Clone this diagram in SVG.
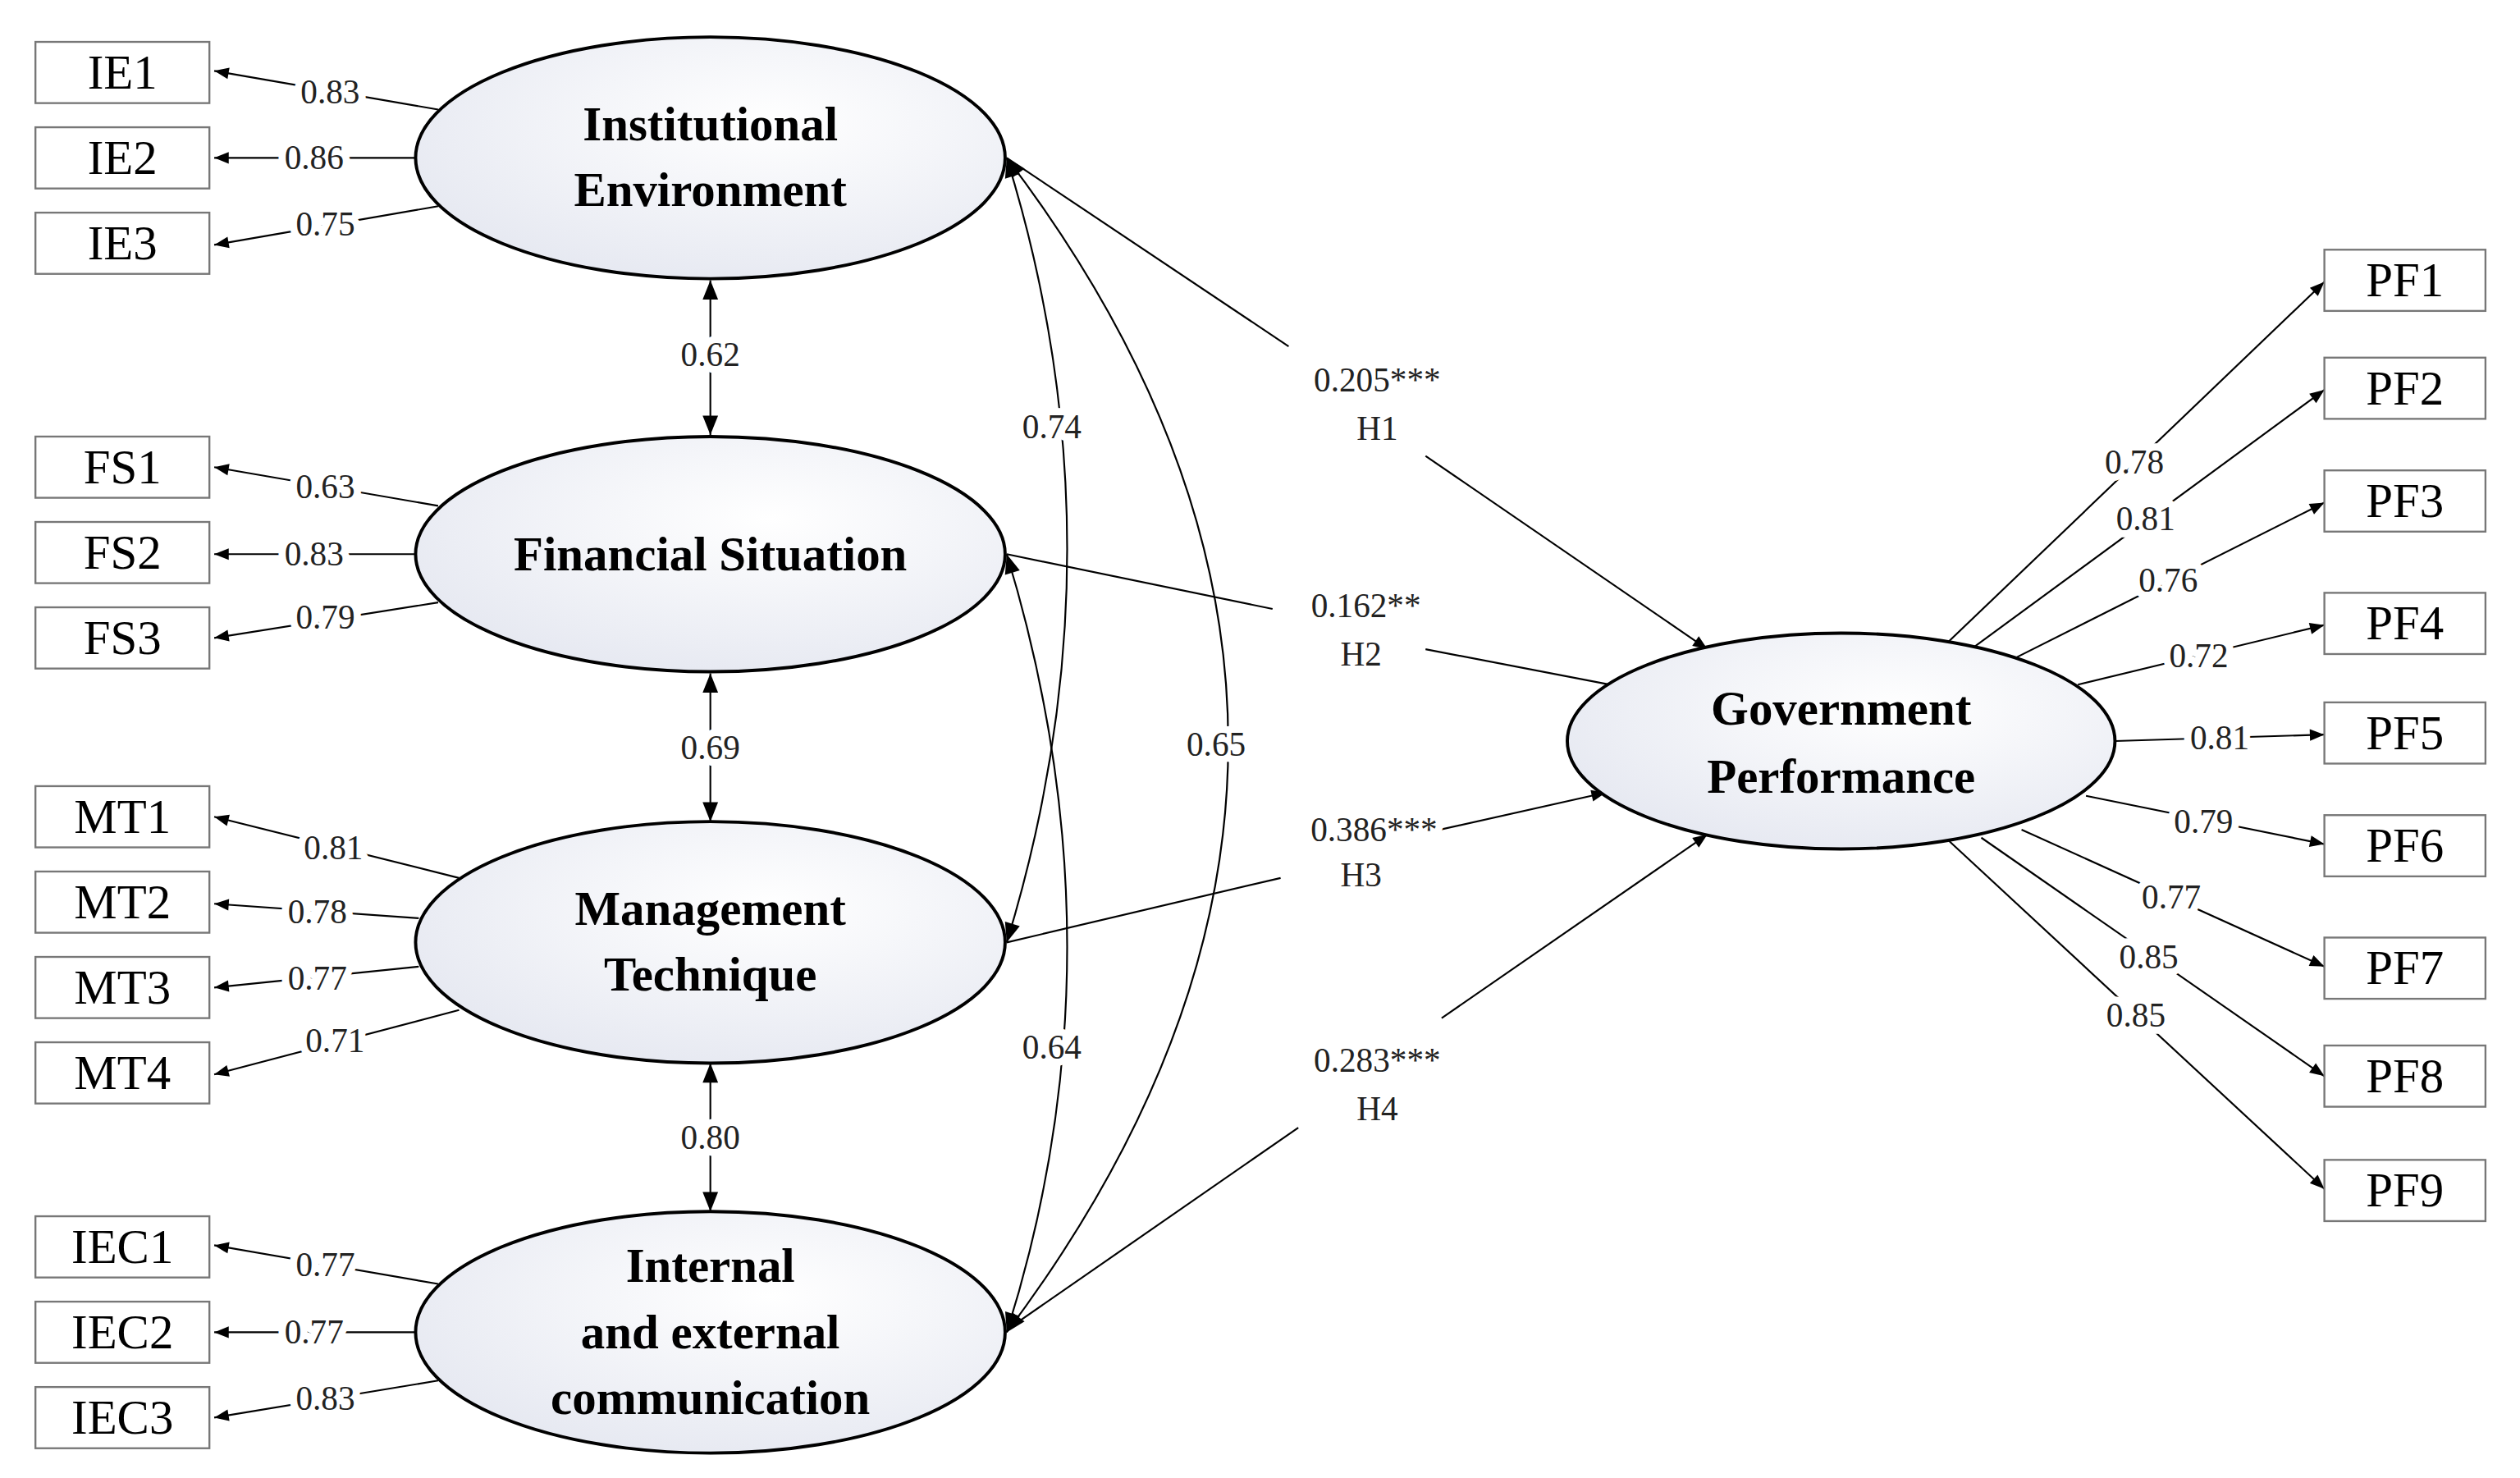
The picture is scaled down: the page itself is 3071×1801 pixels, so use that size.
<svg xmlns="http://www.w3.org/2000/svg" width="3071" height="1801" viewBox="0 0 3071 1801">
<defs>
<radialGradient id="gf" cx="0.6" cy="0.35" r="0.8"><stop offset="0" stop-color="#ffffff"/><stop offset="1" stop-color="#e2e5ef"/></radialGradient>
<marker id="ar" viewBox="0 0 10 10" refX="10" refY="5" markerWidth="10" markerHeight="9" orient="auto-start-reverse" markerUnits="userSpaceOnUse"><path d="M0,1 L10,5 L0,9 z" fill="#000"/></marker>
<marker id="ab" viewBox="0 0 10 10" refX="10" refY="5" markerWidth="16" markerHeight="12" orient="auto-start-reverse" markerUnits="userSpaceOnUse"><path d="M0,1 L10,5 L0,9 z" fill="#000"/></marker>
</defs>
<style>
.box{fill:#fff;stroke:#777;stroke-width:1.2}
.bt{font-family:"Liberation Serif",serif;font-size:30px;text-anchor:middle;dominant-baseline:central}
.el{fill:url(#gf);stroke:#000;stroke-width:2}
.et{font-family:"Liberation Serif",serif;font-size:30px;font-weight:bold;text-anchor:middle;dominant-baseline:central}
.l{stroke:#000;stroke-width:1.1;fill:none;marker-end:url(#ar)}
.c{stroke:#000;stroke-width:1.1;fill:none;marker-end:url(#ab);marker-start:url(#ab)}
.n{font-family:"Liberation Serif",serif;font-size:21px;text-anchor:middle;dominant-baseline:central;stroke:#fff;stroke-width:9;stroke-linejoin:round;paint-order:stroke;fill:#222}
</style>
<rect width="3071" height="1801" fill="#fff"/>
<g transform="scale(1.963)">
<g id="connectors">
<line class="l" x1="272" y1="68" x2="133" y2="44"/><line class="l" x1="258" y1="98" x2="133" y2="98"/><line class="l" x1="272" y1="128" x2="133" y2="152"/>
<line class="l" x1="272" y1="314" x2="133" y2="290"/><line class="l" x1="258" y1="344" x2="133" y2="344"/><line class="l" x1="272" y1="374" x2="133" y2="396"/>
<line class="l" x1="285" y1="545" x2="133" y2="507"/><line class="l" x1="260" y1="570" x2="133" y2="561"/><line class="l" x1="260" y1="600" x2="133" y2="613"/><line class="l" x1="285" y1="627" x2="133" y2="667"/>
<line class="l" x1="272" y1="797" x2="133" y2="773"/><line class="l" x1="258" y1="827" x2="133" y2="827"/><line class="l" x1="272" y1="857" x2="133" y2="880"/>
<line class="c" x1="441" y1="174" x2="441" y2="270"/><line class="c" x1="441" y1="418" x2="441" y2="510"/><line class="c" x1="441" y1="660" x2="441" y2="752"/>
<path class="c" d="M625,98 Q700,340 625,585"/>
<path class="c" d="M625,98 Q900,460 625,827"/>
<path class="c" d="M625,344 Q700,590 625,827"/>
<line stroke="#000" stroke-width="1.1" x1="625" y1="98" x2="800" y2="215"/><line class="l" x1="885" y1="283" x2="1060" y2="403"/>
<line stroke="#000" stroke-width="1.1" x1="625" y1="344" x2="790" y2="378"/><line class="l" x1="885" y1="403" x2="1015" y2="428"/>
<line stroke="#000" stroke-width="1.1" x1="625" y1="585" x2="795" y2="545"/><line class="l" x1="885" y1="517" x2="997" y2="492"/>
<line stroke="#000" stroke-width="1.1" x1="630" y1="822" x2="806" y2="700"/><line class="l" x1="895" y1="632" x2="1060" y2="518"/>
<line class="l" x1="1210" y1="398" x2="1443" y2="175"/><line class="l" x1="1225" y1="402" x2="1443" y2="242"/><line class="l" x1="1252" y1="408" x2="1443" y2="312"/>
<line class="l" x1="1290" y1="425" x2="1443" y2="388"/><line class="l" x1="1313" y1="460" x2="1443" y2="456"/><line class="l" x1="1295" y1="494" x2="1443" y2="524"/>
<line class="l" x1="1255" y1="515" x2="1443" y2="600"/><line class="l" x1="1230" y1="520" x2="1443" y2="668"/><line class="l" x1="1210" y1="522" x2="1443" y2="738"/>
<text class="n" x="205" y="57">0.83</text><text class="n" x="195" y="98">0.86</text><text class="n" x="202" y="139">0.75</text>
<text class="n" x="202" y="302">0.63</text><text class="n" x="195" y="344">0.83</text><text class="n" x="202" y="383">0.79</text>
<text class="n" x="207" y="526">0.81</text><text class="n" x="197" y="566">0.78</text><text class="n" x="197" y="607">0.77</text><text class="n" x="208" y="646">0.71</text>
<text class="n" x="202" y="785">0.77</text><text class="n" x="195" y="827">0.77</text><text class="n" x="202" y="868">0.83</text>
<text class="n" x="441" y="220">0.62</text><text class="n" x="441" y="464">0.69</text><text class="n" x="441" y="706">0.80</text>
<text class="n" x="653" y="265">0.74</text><text class="n" x="755" y="462">0.65</text><text class="n" x="653" y="650">0.64</text>
<text class="n" x="855" y="236">0.205***</text><text class="n" x="855" y="266">H1</text>
<text class="n" x="848" y="376">0.162**</text><text class="n" x="845" y="406">H2</text>
<text class="n" x="853" y="515">0.386***</text><text class="n" x="845" y="543">H3</text>
<text class="n" x="855" y="658">0.283***</text><text class="n" x="855" y="688">H4</text>
<text class="n" x="1325" y="287">0.78</text><text class="n" x="1332" y="322">0.81</text><text class="n" x="1346" y="360">0.76</text>
<text class="n" x="1365" y="407">0.72</text><text class="n" x="1378" y="458">0.81</text><text class="n" x="1368" y="510">0.79</text>
<text class="n" x="1348" y="557">0.77</text><text class="n" x="1334" y="594">0.85</text><text class="n" x="1326" y="630">0.85</text>
</g>
<g id="IE"><ellipse class="el" cx="441" cy="98" rx="183" ry="75"/><text class="et" x="441" y="77">Institutional</text><text class="et" x="441" y="118">Environment</text></g>
<g id="FS"><ellipse class="el" cx="441" cy="344" rx="183" ry="73"/><text class="et" x="441" y="344">Financial Situation</text></g>
<g id="MT"><ellipse class="el" cx="441" cy="585" rx="183" ry="75"/><text class="et" x="441" y="564">Management</text><text class="et" x="441" y="605">Technique</text></g>
<g id="IEC"><ellipse class="el" cx="441" cy="827" rx="183" ry="75"/><text class="et" x="441" y="786">Internal</text><text class="et" x="441" y="827">and external</text><text class="et" x="441" y="868">communication</text></g>
<g id="GP"><ellipse class="el" cx="1143" cy="460" rx="170" ry="67"/><text class="et" x="1143" y="440">Government</text><text class="et" x="1143" y="482">Performance</text></g>
<g id="IE1"><rect class="box" x="22" y="26" width="108" height="38"/><text class="bt" x="76" y="45">IE1</text></g>
<g id="IE2"><rect class="box" x="22" y="79" width="108" height="38"/><text class="bt" x="76" y="98">IE2</text></g>
<g id="IE3"><rect class="box" x="22" y="132" width="108" height="38"/><text class="bt" x="76" y="151">IE3</text></g>
<g id="FS1"><rect class="box" x="22" y="271" width="108" height="38"/><text class="bt" x="76" y="290">FS1</text></g>
<g id="FS2"><rect class="box" x="22" y="324" width="108" height="38"/><text class="bt" x="76" y="343">FS2</text></g>
<g id="FS3"><rect class="box" x="22" y="377" width="108" height="38"/><text class="bt" x="76" y="396">FS3</text></g>
<g id="MT1"><rect class="box" x="22" y="488" width="108" height="38"/><text class="bt" x="76" y="507">MT1</text></g>
<g id="MT2"><rect class="box" x="22" y="541" width="108" height="38"/><text class="bt" x="76" y="560">MT2</text></g>
<g id="MT3"><rect class="box" x="22" y="594" width="108" height="38"/><text class="bt" x="76" y="613">MT3</text></g>
<g id="MT4"><rect class="box" x="22" y="647" width="108" height="38"/><text class="bt" x="76" y="666">MT4</text></g>
<g id="IEC1"><rect class="box" x="22" y="755" width="108" height="38"/><text class="bt" x="76" y="774">IEC1</text></g>
<g id="IEC2"><rect class="box" x="22" y="808" width="108" height="38"/><text class="bt" x="76" y="827">IEC2</text></g>
<g id="IEC3"><rect class="box" x="22" y="861" width="108" height="38"/><text class="bt" x="76" y="880">IEC3</text></g>
<g id="PF1"><rect class="box" x="1443" y="155" width="100" height="38"/><text class="bt" x="1493" y="174">PF1</text></g>
<g id="PF2"><rect class="box" x="1443" y="222" width="100" height="38"/><text class="bt" x="1493" y="241">PF2</text></g>
<g id="PF3"><rect class="box" x="1443" y="292" width="100" height="38"/><text class="bt" x="1493" y="311">PF3</text></g>
<g id="PF4"><rect class="box" x="1443" y="368" width="100" height="38"/><text class="bt" x="1493" y="387">PF4</text></g>
<g id="PF5"><rect class="box" x="1443" y="436" width="100" height="38"/><text class="bt" x="1493" y="455">PF5</text></g>
<g id="PF6"><rect class="box" x="1443" y="506" width="100" height="38"/><text class="bt" x="1493" y="525">PF6</text></g>
<g id="PF7"><rect class="box" x="1443" y="582" width="100" height="38"/><text class="bt" x="1493" y="601">PF7</text></g>
<g id="PF8"><rect class="box" x="1443" y="649" width="100" height="38"/><text class="bt" x="1493" y="668">PF8</text></g>
<g id="PF9"><rect class="box" x="1443" y="720" width="100" height="38"/><text class="bt" x="1493" y="739">PF9</text></g>
</g>
</svg>
